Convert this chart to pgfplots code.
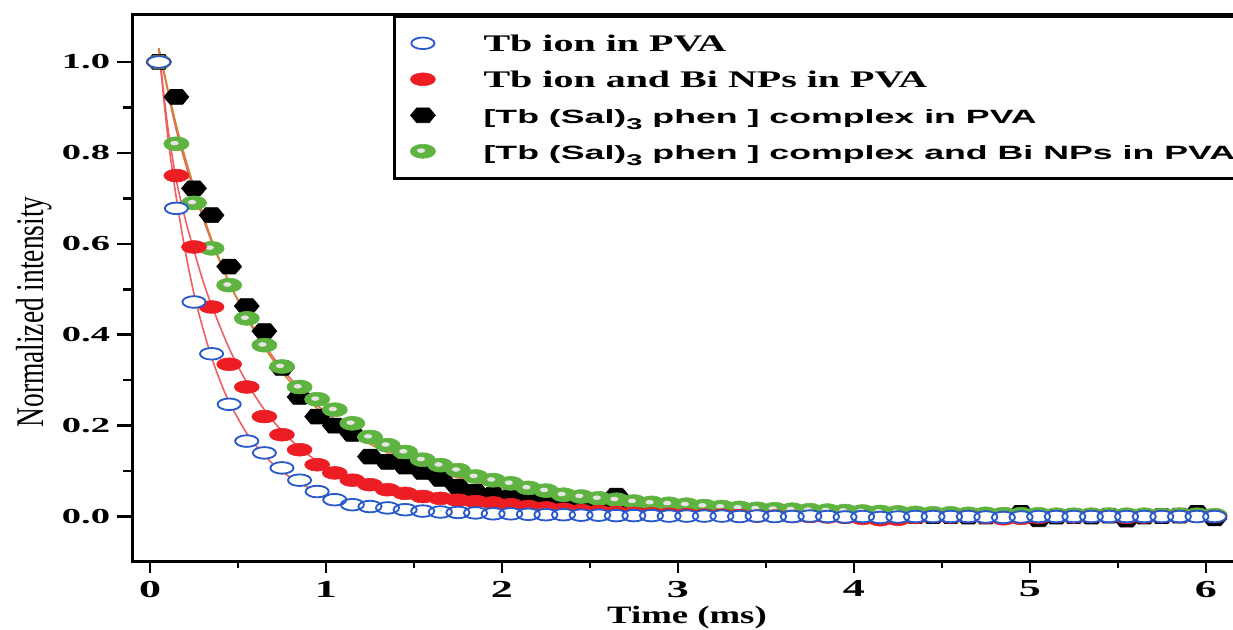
\documentclass[border=0pt]{standalone}
\usepackage{fontspec}
\setmainfont{Liberation Serif}
\newfontfamily\sansb{Liberation Sans}
\usepackage{graphicx}
\usepackage{pgfplots}
\usepackage{pgfplotstable}
\pgfplotsset{compat=1.18}
\definecolor{cblue}{RGB}{40,90,205}
\definecolor{cred}{RGB}{236,30,36}
\definecolor{cgreen}{RGB}{95,180,65}
\definecolor{fitred}{RGB}{240,95,95}
\definecolor{fitorange}{RGB}{205,135,50}
\pgfplotsset{mylegimg/.style={legend image code/.code={\draw[##1] plot coordinates {(0pt,0pt)};}}}
\pgfdeclareplotmark{hexa}{%
  \pgfpathmoveto{\pgfqpoint{\pgfplotmarksize}{0pt}}%
  \pgfpathlineto{\pgfqpoint{0.5\pgfplotmarksize}{0.866\pgfplotmarksize}}%
  \pgfpathlineto{\pgfqpoint{-0.5\pgfplotmarksize}{0.866\pgfplotmarksize}}%
  \pgfpathlineto{\pgfqpoint{-\pgfplotmarksize}{0pt}}%
  \pgfpathlineto{\pgfqpoint{-0.5\pgfplotmarksize}{-0.866\pgfplotmarksize}}%
  \pgfpathlineto{\pgfqpoint{0.5\pgfplotmarksize}{-0.866\pgfplotmarksize}}%
  \pgfpathclose
  \pgfusepathqfillstroke
}
\pgfdeclareplotmark{ball}{%
  \pgfpathcircle{\pgfpointorigin}{\pgfplotmarksize}%
  \pgfusepathqfillstroke
  \pgfscope
  \pgfsetfillcolor{white!80!gray}%
  \pgfpathcircle{\pgfqpoint{-0.15\pgfplotmarksize}{0.1\pgfplotmarksize}}{0.33\pgfplotmarksize}%
  \pgfusepathqfill
  \endpgfscope
}
\pgfplotstableread{
x y
0.05 1.000
0.15 0.678
0.25 0.472
0.35 0.358
0.45 0.247
0.55 0.166
0.65 0.140
0.75 0.107
0.85 0.080
0.95 0.055
1.05 0.037
1.15 0.026
1.25 0.022
1.35 0.019
1.45 0.015
1.55 0.012
1.65 0.010
1.75 0.009
1.85 0.008
1.95 0.006
2.05 0.006
2.15 0.005
2.25 0.004
2.35 0.004
2.45 0.003
2.55 0.003
2.65 0.002
2.75 0.002
2.85 0.002
2.95 0.001
3.05 0.001
3.15 0.001
3.25 0.001
3.35 0.000
3.45 0.001
3.55 0.000
3.65 0.000
3.75 0.001
3.85 0.000
3.95 -0.001
4.05 0.000
4.15 -0.002
4.25 -0.001
4.35 0.000
4.45 0.000
4.55 0.000
4.65 0.000
4.75 -0.001
4.85 -0.002
4.95 -0.001
5.05 0.000
5.15 0.000
5.25 0.000
5.35 0.000
5.45 0.000
5.55 0.000
5.65 0.000
5.75 0.000
5.85 0.000
5.95 0.000
6.05 0.000
}\tblue
\pgfplotstableread{
x y
0.05 1.000
0.15 0.750
0.25 0.593
0.35 0.461
0.45 0.335
0.55 0.285
0.65 0.220
0.75 0.180
0.85 0.147
0.95 0.114
1.05 0.096
1.15 0.080
1.25 0.070
1.35 0.059
1.45 0.051
1.55 0.044
1.65 0.040
1.75 0.036
1.85 0.033
1.95 0.030
2.05 0.026
2.15 0.022
2.25 0.019
2.35 0.016
2.45 0.013
2.55 0.011
2.65 0.009
2.75 0.007
2.85 0.006
2.95 0.005
3.05 0.004
3.15 0.003
3.25 0.003
3.35 0.002
3.45 0.001
3.55 0.001
3.65 0.000
3.75 0.000
3.85 -0.001
3.95 -0.002
4.05 -0.004
4.15 -0.007
4.25 -0.006
4.35 -0.002
4.45 0.000
4.55 -0.001
4.65 0.000
4.75 -0.002
4.85 -0.005
4.95 -0.004
5.05 -0.002
5.15 0.000
5.25 -0.001
5.35 0.000
5.45 0.000
5.55 -0.002
5.65 -0.001
5.75 0.000
5.85 0.000
5.95 0.000
6.05 0.000
}\tred
\pgfplotstableread{
x y
0.05 1.000
0.15 0.923
0.25 0.722
0.35 0.663
0.45 0.550
0.55 0.463
0.65 0.408
0.75 0.327
0.85 0.263
0.95 0.220
1.05 0.200
1.15 0.182
1.25 0.132
1.35 0.120
1.45 0.110
1.55 0.098
1.65 0.083
1.75 0.065
1.85 0.054
1.95 0.048
2.05 0.044
2.15 0.039
2.25 0.034
2.35 0.031
2.45 0.028
2.55 0.025
2.65 0.046
2.75 0.021
2.85 0.019
2.95 0.017
3.05 0.015
3.15 0.013
3.25 0.011
3.35 0.010
3.45 0.009
3.55 0.008
3.65 0.007
3.75 0.006
3.85 0.005
3.95 0.004
4.05 0.003
4.15 0.002
4.25 0.002
4.35 0.001
4.45 0.001
4.55 0.001
4.65 0.000
4.75 0.000
4.85 0.002
4.95 0.008
5.05 -0.006
5.15 0.000
5.25 0.001
5.35 0.000
5.45 0.002
5.55 -0.007
5.65 0.000
5.75 0.001
5.85 0.002
5.95 0.008
6.05 -0.004
}\tblack
\pgfplotstableread{
x y
0.05 1.000
0.15 0.820
0.25 0.690
0.35 0.590
0.45 0.509
0.55 0.436
0.65 0.377
0.75 0.330
0.85 0.285
0.95 0.258
1.05 0.235
1.15 0.205
1.25 0.175
1.35 0.157
1.45 0.142
1.55 0.125
1.65 0.113
1.75 0.102
1.85 0.088
1.95 0.080
2.05 0.073
2.15 0.063
2.25 0.057
2.35 0.048
2.45 0.044
2.55 0.040
2.65 0.037
2.75 0.033
2.85 0.030
2.95 0.028
3.05 0.026
3.15 0.023
3.25 0.021
3.35 0.019
3.45 0.017
3.55 0.016
3.65 0.015
3.75 0.014
3.85 0.013
3.95 0.012
4.05 0.011
4.15 0.010
4.25 0.009
4.35 0.008
4.45 0.007
4.55 0.007
4.65 0.006
4.75 0.006
4.85 0.005
4.95 0.005
5.05 0.005
5.15 0.004
5.25 0.004
5.35 0.004
5.45 0.004
5.55 0.004
5.65 0.004
5.75 0.003
5.85 0.004
5.95 0.004
6.05 0.003
}\tgreen
\begin{document}
\begin{tikzpicture}
\begin{axis}[name=ax, at={(0,0)}, anchor=south west,
  scale only axis, width=554pt, height=273.5pt,
  xmin=-0.0966, xmax=6.2, ymin=-0.1, ymax=1.1034,
  axis line style={line width=1.5pt},
  tick style={black, line width=1.3pt},
  tick align=outside, tick pos=left,
  xtick={0,1,2,3,4,5,6}, minor x tick num=1,
  ytick={0,0.2,0.4,0.6,0.8,1.0}, minor y tick num=1,
  xtick style={/pgfplots/major tick length=5.5pt,/pgfplots/minor tick length=3pt},
  ytick style={/pgfplots/major tick length=8pt,/pgfplots/minor tick length=5pt},
  /pgf/number format/assume math mode=true,
  xticklabel={\scalebox{1.8}[1]{\pgfmathprintnumber{\tick}}},
  yticklabel={\scalebox{1.8}[1]{\pgfmathprintnumber[fixed,fixed zerofill,precision=1]{\tick}}},
  xticklabel style={font=\bfseries\fontsize{12.2}{14}\selectfont, inner xsep=0pt, inner ysep=5pt},
  yticklabel style={font=\bfseries\fontsize{10.7}{12}\selectfont, inner xsep=7pt, inner ysep=0pt},
  xlabel={\scalebox{1.47}[1]{Time (ms)}},
  every axis x label/.style={at={(axis description cs:0.5,-0.1133)}, anchor=base},
  xlabel style={font=\bfseries\fontsize{12.5}{14}\selectfont},
  ylabel={\scalebox{0.7}[1]{Normalized intensity}},
  every axis y label/.style={at={(axis description cs:-0.0812,0.457)}, rotate=90, anchor=base},
  ylabel style={font=\fontsize{19.6}{22}\selectfont},
  legend cell align=left,
  legend style={at={(rel axis cs:0.2347,1)}, anchor=north west, draw=black, line width=1.3pt,
    inner xsep=8pt, inner ysep=4.5pt, row sep=0pt, column sep=24pt,
    nodes={inner sep=0pt, text height=13pt, text depth=5pt}},
]
\addlegendimage{only marks, mark=o, mark size=2.9pt, mark options={xscale=2.0, draw=cblue, line width=0.9pt}, mylegimg}
\addlegendentry{\scalebox{1.68}[1]{\bfseries\fontsize{11.9}{13}\selectfont Tb ion in PVA}}
\addlegendimage{only marks, mark=*, mark size=3.2pt, mark options={xscale=1.95, draw=cred, fill=cred, line width=0.3pt}, mylegimg}
\addlegendentry{\scalebox{1.68}[1]{\bfseries\fontsize{11.9}{13}\selectfont Tb ion and Bi NPs in PVA}}
\addlegendimage{only marks, mark=hexa, mark size=4.3pt, mark options={xscale=1.45, draw=black, fill=black, line width=0.3pt}, mylegimg}
\addlegendentry{\scalebox{1.86}[1]{\sansb\bfseries\fontsize{9.6}{11}\selectfont [Tb (Sal)\raisebox{-0.6ex}{\fontsize{7.8}{8}\selectfont 3} phen ] complex in PVA}}
\addlegendimage{only marks, mark=ball, mark size=3.5pt, mark options={xscale=1.8, draw=cgreen, fill=cgreen, line width=0.3pt}, mylegimg}
\addlegendentry{\scalebox{1.86}[1]{\sansb\bfseries\fontsize{9.6}{11}\selectfont [Tb (Sal)\raisebox{-0.6ex}{\fontsize{7.8}{8}\selectfont 3} phen ] complex and Bi NPs in PVA}}

\addplot[forget plot, only marks, mark=hexa, mark size=4.3pt, mark options={xscale=1.45, draw=black, fill=black, line width=0.3pt}] table {\tblack};
\addplot[forget plot, only marks, mark=ball, mark size=3.5pt, mark options={xscale=1.8, draw=cgreen, fill=cgreen, line width=0.3pt}] table {\tgreen};
\addplot[forget plot, only marks, mark=*, mark size=3.2pt, mark options={xscale=1.95, draw=cred, fill=cred, line width=0.3pt}] table {\tred};
\addplot[forget plot, only marks, mark=*, mark size=2.9pt, mark options={xscale=2.0, draw=none, fill=white}] table {\tblue};
\addplot[forget plot, only marks, mark=o, mark size=2.9pt, mark options={xscale=2.0, draw=cblue, line width=0.9pt}] table {\tblue};

\addplot[forget plot, smooth, no marks, fitred, line width=0.8pt] coordinates {
(0.05,1.03) (0.10,0.84) (0.15,0.70) (0.20,0.585) (0.25,0.49) (0.30,0.415) (0.35,0.35) (0.40,0.297) (0.45,0.252) (0.55,0.183) (0.65,0.134) (0.75,0.099) (0.85,0.074) (0.95,0.055) (1.1,0.036) (1.3,0.021) (1.5,0.013) (1.8,0.007) (2.2,0.004) (3,0.001) (4,0) (6.05,0)};
\addplot[forget plot, smooth, no marks, fitred, line width=0.8pt] coordinates {
(0.05,1.03) (0.10,0.86) (0.15,0.74) (0.20,0.655) (0.25,0.585) (0.30,0.52) (0.35,0.465) (0.45,0.37) (0.55,0.295) (0.65,0.235) (0.75,0.188) (0.85,0.151) (0.95,0.122) (1.05,0.099) (1.2,0.075) (1.4,0.055) (1.6,0.042) (1.8,0.034) (2.0,0.027) (2.3,0.019) (2.7,0.011) (3.2,0.006) (4,0.002) (6.05,0)};
\addplot[forget plot, smooth, no marks, fitred, line width=0.8pt] coordinates {
(0.05,1.03) (0.15,0.85) (0.25,0.715) (0.35,0.605) (0.45,0.515) (0.55,0.44) (0.65,0.378) (0.75,0.325) (0.85,0.282) (0.95,0.245) (1.05,0.214) (1.2,0.175) (1.4,0.136) (1.6,0.106) (1.8,0.083) (2.0,0.065) (2.3,0.047) (2.6,0.035) (3.0,0.024) (3.5,0.015) (4.0,0.010) (5.0,0.004) (6.05,0.002)};
\addplot[forget plot, smooth, no marks, fitorange, line width=0.8pt] coordinates {
(0.05,1.03) (0.15,0.86) (0.25,0.725) (0.35,0.61) (0.45,0.515) (0.55,0.437) (0.65,0.372) (0.75,0.318) (0.85,0.274) (0.95,0.238) (1.05,0.207) (1.2,0.170) (1.4,0.131) (1.6,0.102) (1.8,0.080) (2.0,0.062) (2.3,0.045) (2.6,0.033) (3.0,0.022) (3.5,0.014) (4.0,0.009) (5.0,0.003) (6.05,0.001)};
\end{axis}
\pgfresetboundingbox
\path[use as bounding box] ([shift={(-66.5pt,-34pt)}]ax.south west) rectangle ([shift={(550pt,281pt)}]ax.south west);
\end{tikzpicture}
\end{document}
